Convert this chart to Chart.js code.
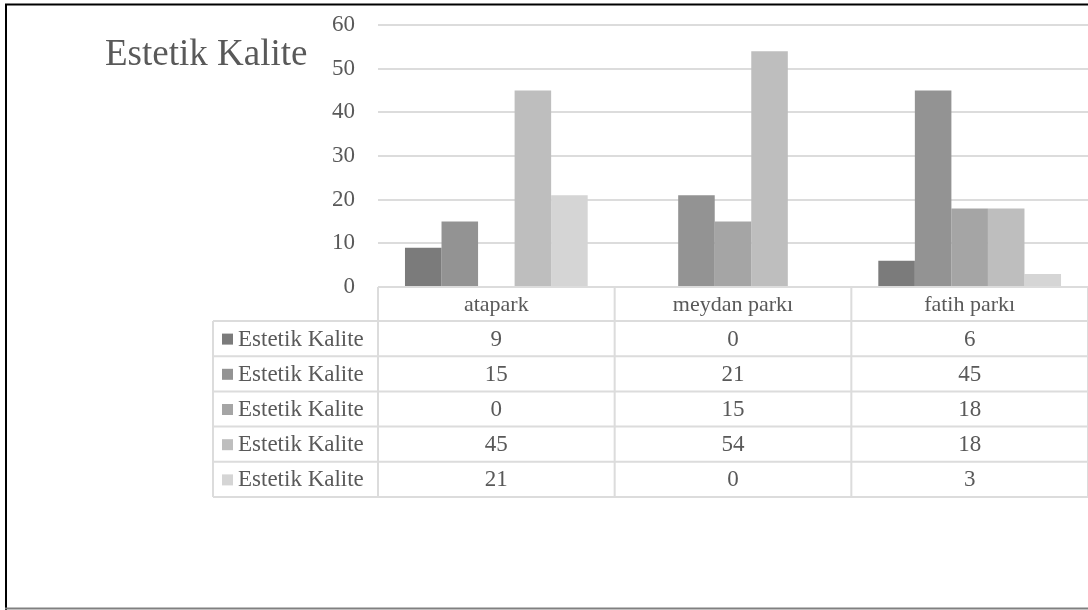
<!DOCTYPE html>
<html>
<head>
<meta charset="utf-8">
<script src="https://cdn.jsdelivr.net/npm/chart.js@4/dist/chart.umd.min.js"></script>
<style>
  html, body { margin: 0; padding: 0; background: #ffffff; }
  #wrap { position: relative; width: 1088px; height: 610px; }
  canvas { display: block; }
</style>
</head>
<body>
<div id="wrap"><canvas id="c" width="1088" height="610"></canvas></div>
<script>
// ---- data ----
const chartTitle = 'Estetik Kalite';
const categories = ['atapark', 'meydan parkı', 'fatih parkı'];
const seriesNames = ['Estetik Kalite', 'Estetik Kalite', 'Estetik Kalite', 'Estetik Kalite', 'Estetik Kalite'];
const series1 = [9, 0, 6];
const series2 = [15, 21, 45];
const series3 = [0, 15, 18];
const series4 = [45, 54, 18];
const series5 = [21, 0, 3];
const yMin = 0, yMax = 60, yStep = 10;

const allSeries = [series1, series2, series3, series4, series5];
const seriesColors = ['#7b7b7b', '#939393', '#a5a5a5', '#bebebe', '#d5d5d5'];

const FONT = "'Liberation Serif', 'Times New Roman', serif";
const TEXT = '#595959';
const LINE = '#dcdcdc';

const framePlugin = {
  id: 'frame',
  beforeDraw(chart) {
    const ctx = chart.ctx;
    ctx.save();
    ctx.fillStyle = '#ffffff';
    ctx.fillRect(0, 0, chart.width, chart.height);
    ctx.restore();
  },
  afterDraw(chart) {
    const ctx = chart.ctx;
    ctx.save();
    ctx.strokeStyle = '#000000';
    ctx.lineWidth = 2;
    ctx.beginPath();
    ctx.moveTo(5, 4.5); ctx.lineTo(chart.width, 4.5);
    ctx.moveTo(6, 4); ctx.lineTo(6, chart.height);
    ctx.stroke();
    ctx.strokeStyle = '#808080';
    ctx.lineWidth = 2;
    ctx.beginPath();
    ctx.moveTo(5, 608.5); ctx.lineTo(chart.width, 608.5);
    ctx.stroke();
    // title
    ctx.fillStyle = TEXT;
    ctx.font = '37px ' + FONT;
    ctx.textAlign = 'left';
    ctx.textBaseline = 'alphabetic';
    ctx.fillText(chartTitle, 105, 65);
    ctx.restore();
  }
};

const tablePlugin = {
  id: 'dataTable',
  afterDraw(chart) {
    const ctx = chart.ctx;
    const x = chart.scales.x, y = chart.scales.y;
    const area = chart.chartArea;
    const top = y.getPixelForValue(0);
    const headerH = 34, rowH = 35.2;
    const step = x.getPixelForValue(1) - x.getPixelForValue(0);
    const edges = categories.map((_, i) => x.getPixelForValue(i) - step / 2);
    edges.push(x.getPixelForValue(categories.length - 1) + step / 2);
    const leftX = 213;
    const bottom = top + headerH + rowH * allSeries.length;

    ctx.save();
    ctx.strokeStyle = LINE;
    ctx.lineWidth = 2;
    ctx.beginPath();
    ctx.moveTo(edges[0], top); ctx.lineTo(area.right, top);
    for (let k = 0; k <= allSeries.length; k++) {
      const yy = top + headerH + k * rowH;
      ctx.moveTo(leftX, yy); ctx.lineTo(area.right, yy);
    }
    edges.forEach(ex => { ctx.moveTo(ex, top); ctx.lineTo(ex, bottom); });
    ctx.moveTo(leftX, top + headerH); ctx.lineTo(leftX, bottom);
    ctx.stroke();

    ctx.fillStyle = TEXT;
    ctx.textBaseline = 'middle';
    ctx.textAlign = 'center';
    ctx.font = '22px ' + FONT;
    categories.forEach((c, i) => {
      ctx.fillText(c, x.getPixelForValue(i), top + headerH / 2 + 1);
    });
    ctx.font = '23px ' + FONT;
    allSeries.forEach((s, r) => {
      const cy = top + headerH + r * rowH + rowH / 2 + 1;
      ctx.textAlign = 'center';
      ctx.fillStyle = TEXT;
      s.forEach((v, i) => ctx.fillText(String(v), x.getPixelForValue(i), cy));
      ctx.fillStyle = seriesColors[r];
      ctx.fillRect(222, cy - 6, 11, 11);
      ctx.fillStyle = TEXT;
      ctx.textAlign = 'left';
      ctx.fillText(seriesNames[r], 238, cy);
    });
    ctx.restore();
  }
};

new Chart(document.getElementById('c'), {
  type: 'bar',
  data: {
    labels: categories,
    datasets: allSeries.map((s, i) => ({
      label: seriesNames[i],
      data: s,
      backgroundColor: seriesColors[i],
      borderWidth: 0,
      categoryPercentage: 0.772,
      barPercentage: 1.0
    }))
  },
  options: {
    responsive: false,
    devicePixelRatio: 1,
    animation: false,
    layout: { padding: { top: 25, bottom: 323, left: 0, right: 0 }, autoPadding: false },
    plugins: {
      legend: { display: false },
      tooltip: { enabled: false },
      title: { display: false }
    },
    scales: {
      x: {
        ticks: { display: false },
        grid: { display: false },
        border: { display: false },
        afterFit: s => { s.height = 0; s.paddingLeft = 0; s.paddingRight = 0; }
      },
      y: {
        min: yMin,
        max: yMax,
        ticks: {
          stepSize: yStep,
          padding: 23,
          color: TEXT,
          font: { family: FONT, size: 23 }
        },
        grid: { color: LINE, lineWidth: 2, drawTicks: false },
        border: { display: false },
        afterFit: s => { s.width = 378; s.paddingTop = 0; s.paddingBottom = 0; }
      }
    }
  },
  plugins: [framePlugin, tablePlugin]
});
</script>
</body>
</html>
